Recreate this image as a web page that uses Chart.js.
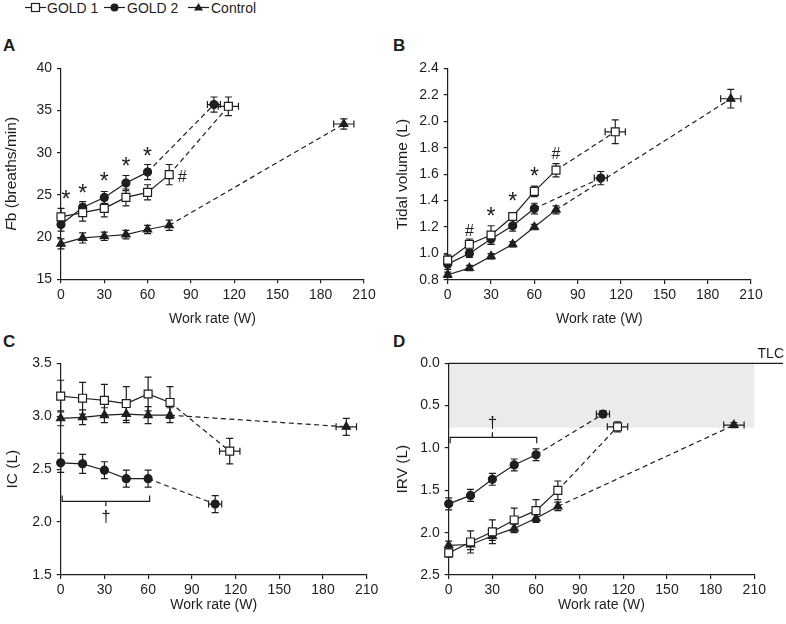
<!DOCTYPE html>
<html lang="en">
<head>
<meta charset="UTF-8">
<title>Breathing pattern during exercise</title>
<script src="https://cdn.jsdelivr.net/npm/chart.js"></script>
<style>
    body {
        margin: 0;
        width: 786px;
        height: 624px;
        background: #fff;
        position: relative;
        overflow: hidden;
        font-family: 'Liberation Sans', Arial, Helvetica, sans-serif;
        color: #1e1e1e;
    }
    canvas { position: absolute; }
    .key { position: absolute; top: 0; height: 15px; display: flex; align-items: center; font-size: 14px; }
    .key svg { position: absolute; top: 0; }
    .letter { position: absolute; font-weight: bold; font-size: 17px; line-height: 17px; }
</style>
</head>
<body>
    <div class="key" style="left:25px"><svg width="21" height="15"><line x1="0" y1="7.5" x2="21" y2="7.5" stroke="#1e1e1e" stroke-width="1.2"/><rect x="6.5" y="3.5" width="8" height="8" fill="#fff" stroke="#1e1e1e" stroke-width="1.2"/></svg><span style="margin-left:22px">GOLD 1</span></div>
    <div class="key" style="left:104px"><svg width="21" height="15"><line x1="0" y1="7.5" x2="21" y2="7.5" stroke="#1e1e1e" stroke-width="1.2"/><circle cx="10.5" cy="7.5" r="4" fill="#1e1e1e"/></svg><span style="margin-left:23px">GOLD 2</span></div>
    <div class="key" style="left:188px"><svg width="21" height="15"><line x1="0" y1="7.5" x2="21" y2="7.5" stroke="#1e1e1e" stroke-width="1.2"/><polygon points="10.5,3 15,10.5 6,10.5" fill="#1e1e1e"/></svg><span style="margin-left:23px">Control</span></div>

    <div class="letter" style="left:3px; top:37px">A</div>
    <div class="letter" style="left:393px; top:37px">B</div>
    <div class="letter" style="left:3px; top:333px">C</div>
    <div class="letter" style="left:393px; top:333px">D</div>

    <canvas id="panelA"></canvas>
    <canvas id="panelB"></canvas>
    <canvas id="panelC"></canvas>
    <canvas id="panelD"></canvas>

<script>
    const ink = '#1e1e1e';
    const fam = "'Liberation Sans', Arial, Helvetica, sans-serif";
    const font14 = { family: fam, size: 14 };
    const fontYTitle = { family: fam, size: 15.5 };

    // work rate stages (W) and peak exercise, order: GOLD 1, GOLD 2, Control
    const workStages = [0, 15, 30, 45, 60, 75];
    const peakWork = [116, 106, 196];
    const peakWorkErr = [7, 4.5, 7];
    const xTicks = [0, 30, 60, 90, 120, 150, 180, 210];

    // A - breathing frequency (breaths/min)
    const fbGold1 = [22.4, 22.9, 23.4, 24.7, 25.3, 27.4, 35.5];
    const fbGold1Err = [1.0, 1.0, 1.0, 1.0, 0.9, 1.2, 1.1];
    const fbGold2 = [21.5, 23.5, 24.7, 26.4, 27.7, 35.7];
    const fbGold2Err = [0.8, 0.7, 0.7, 0.9, 0.9, 0.9];
    const fbControl = [19.2, 19.9, 20.1, 20.3, 20.9, 21.4, 33.4];
    const fbControlErr = [0.6, 0.6, 0.5, 0.5, 0.5, 0.6, 0.6];
    const fbTicks = [15, 20, 25, 30, 35, 40];
    const fbSymbols = [[3.5, 25.0, '*'], [15, 25.8, '*'], [30, 27.2, '*'], [45, 28.9, '*'], [60, 30.2, '*'], [84, 27.2, '#']];

    // B - tidal volume (L)
    const vtGold1 = [0.95, 1.07, 1.14, 1.28, 1.47, 1.63, 1.92];
    const vtGold1Err = [0.04, 0.04, 0.07, 0.03, 0.04, 0.05, 0.09];
    const vtGold2 = [0.92, 1.00, 1.11, 1.21, 1.34, 1.57];
    const vtGold2Err = [0.04, 0.03, 0.04, 0.04, 0.04, 0.05];
    const vtControl = [0.84, 0.89, 0.98, 1.07, 1.20, 1.33, 2.17];
    const vtControlErr = [0.02, 0.02, 0.02, 0.02, 0.02, 0.03, 0.07];
    const vtTicks = [0.8, 1.0, 1.2, 1.4, 1.6, 1.8, 2.0, 2.2, 2.4];
    const vtSymbols = [[15, 1.18, '#'], [30, 1.32, '*'], [45, 1.43, '*'], [60, 1.62, '*'], [75, 1.76, '#']];

    // C - inspiratory capacity (L)
    const icGold1 = [3.19, 3.17, 3.15, 3.12, 3.21, 3.13, 2.67];
    const icGold1Err = [0.15, 0.15, 0.15, 0.16, 0.16, 0.15, 0.12];
    const icGold2 = [2.56, 2.55, 2.49, 2.41, 2.41, 2.17];
    const icGold2Err = [0.09, 0.09, 0.08, 0.08, 0.08, 0.08];
    const icControl = [2.98, 2.99, 3.01, 3.02, 3.01, 3.01, 2.90];
    const icControlErr = [0.07, 0.07, 0.07, 0.08, 0.08, 0.07, 0.08];
    const icTicks = [1.5, 2.0, 2.5, 3.0, 3.5];

    // D - inspiratory reserve volume (L), axis reversed
    const irvGold1 = [2.24, 2.11, 1.99, 1.85, 1.74, 1.50, 0.75];
    const irvGold1Err = [0.05, 0.13, 0.14, 0.14, 0.13, 0.11, 0.06];
    const irvGold2 = [1.66, 1.56, 1.37, 1.20, 1.08, 0.60];
    const irvGold2Err = [0.07, 0.07, 0.07, 0.07, 0.07, 0.04];
    const irvControl = [2.15, 2.14, 2.04, 1.95, 1.83, 1.69, 0.73];
    const irvControlErr = [0.05, 0.06, 0.05, 0.05, 0.05, 0.05, 0.03];
    const irvTicks = [0.0, 0.5, 1.0, 1.5, 2.0, 2.5];
    const irvShadeTo = 0.76;

    Chart.defaults.font.family = fam;
    Chart.defaults.font.size = 14;
    Chart.defaults.color = ink;

    const styles = [
        { shape: 'rect', r: 5.6, fill: '#fff' },
        { shape: 'circle', r: 4, fill: ink },
        { shape: 'triangle', r: 4.8, fill: ink }
    ];

    function series(label, values, errs, group) {
        const last = values.length - 1;
        const st = styles[group];
        return {
            label: label,
            data: values.map((v, i) => ({ x: i < last ? workStages[i] : peakWork[group], y: v })),
            yErr: errs,
            xErr: peakWorkErr[group],
            borderColor: ink,
            borderWidth: 1.2,
            backgroundColor: st.fill,
            pointStyle: st.shape,
            pointRadius: st.r,
            pointHoverRadius: st.r,
            pointBorderColor: ink,
            pointBorderWidth: 1.2,
            pointBackgroundColor: st.fill,
            clip: false,
            tension: 0,
            segment: {
                borderDash: c => c.p1DataIndex === last ? [5, 3.5] : undefined
            }
        };
    }

    // error bars, drawn under the markers
    Chart.register({
        id: 'errorBars',
        beforeDatasetsDraw(chart) {
            const { ctx, scales: { x, y } } = chart;
            ctx.save();
            ctx.strokeStyle = ink;
            ctx.lineWidth = 1.2;
            chart.data.datasets.forEach(ds => {
                const last = ds.data.length - 1;
                ds.data.forEach((p, i) => {
                    const px = x.getPixelForValue(p.x);
                    const py = y.getPixelForValue(p.y);
                    const t = y.getPixelForValue(p.y + ds.yErr[i]);
                    const b = y.getPixelForValue(p.y - ds.yErr[i]);
                    ctx.beginPath();
                    ctx.moveTo(px, t); ctx.lineTo(px, b);
                    ctx.moveTo(px - 3.5, t); ctx.lineTo(px + 3.5, t);
                    ctx.moveTo(px - 3.5, b); ctx.lineTo(px + 3.5, b);
                    if (i === last) {
                        const l = x.getPixelForValue(p.x - ds.xErr);
                        const r = x.getPixelForValue(p.x + ds.xErr);
                        ctx.moveTo(l, py); ctx.lineTo(r, py);
                        ctx.moveTo(l, py - 3.5); ctx.lineTo(l, py + 3.5);
                        ctx.moveTo(r, py - 3.5); ctx.lineTo(r, py + 3.5);
                    }
                    ctx.stroke();
                });
            });
            ctx.restore();
        }
    });

    // significance symbols and brackets
    function marksPlugin(symbols, bracket) {
        return {
            id: 'marks',
            afterDatasetsDraw(chart) {
                const { ctx, scales: { x, y } } = chart;
                ctx.save();
                ctx.fillStyle = ink;
                ctx.strokeStyle = ink;
                ctx.lineWidth = 1.2;
                ctx.textAlign = 'center';
                ctx.textBaseline = 'alphabetic';
                (symbols || []).forEach(([vx, vy, s]) => {
                    ctx.font = (s === '*' ? 23 : 16) + 'px ' + fam;
                    const m = ctx.measureText(s);
                    const dy = (m.actualBoundingBoxAscent - m.actualBoundingBoxDescent) / 2;
                    ctx.fillText(s, x.getPixelForValue(vx), y.getPixelForValue(vy) + dy);
                });
                if (bracket) {
                    const x0 = x.getPixelForValue(bracket.from);
                    const x1 = x.getPixelForValue(bracket.to);
                    const xm = x.getPixelForValue(bracket.mid);
                    const yl = y.getPixelForValue(bracket.at);
                    const ye = y.getPixelForValue(bracket.ends);
                    const ym = y.getPixelForValue(bracket.midTo);
                    ctx.beginPath();
                    ctx.moveTo(x0, ye); ctx.lineTo(x0, yl); ctx.lineTo(x1, yl); ctx.lineTo(x1, ye);
                    ctx.moveTo(xm, yl); ctx.lineTo(xm, ym);
                    ctx.stroke();
                    ctx.font = '17px ' + fam;
                    const m = ctx.measureText('\u2020');
                    const dy = (m.actualBoundingBoxAscent - m.actualBoundingBoxDescent) / 2;
                    ctx.fillText('\u2020', xm, y.getPixelForValue(bracket.dagger) + dy);
                }
                ctx.restore();
            }
        };
    }

    // italic F in the panel A axis title
    const fbTitle = {
        id: 'fbTitle',
        afterDraw(chart) {
            const { ctx, chartArea } = chart;
            const italic = 'italic 15.5px ' + fam;
            const plain = '15.5px ' + fam;
            ctx.save();
            ctx.translate(12, (chartArea.top + chartArea.bottom) / 2);
            ctx.rotate(-Math.PI / 2);
            ctx.fillStyle = ink;
            ctx.textAlign = 'left';
            ctx.textBaseline = 'middle';
            ctx.font = italic;
            const w1 = ctx.measureText('F').width;
            ctx.font = plain;
            const w2 = ctx.measureText('b (breaths/min)').width;
            const start = -(w1 + w2) / 2;
            ctx.font = italic;
            ctx.fillText('F', start, 0);
            ctx.font = plain;
            ctx.fillText('b (breaths/min)', start + w1, 0);
            ctx.restore();
        }
    };

    // grey band and TLC line for panel D
    const tlcBand = {
        id: 'tlcBand',
        beforeDraw(chart) {
            const { ctx, scales: { x, y } } = chart;
            const top = y.getPixelForValue(0);
            ctx.save();
            ctx.fillStyle = '#ebebeb';
            ctx.fillRect(x.getPixelForValue(0), top, x.getPixelForValue(210) - x.getPixelForValue(0), y.getPixelForValue(irvShadeTo) - top);
            ctx.strokeStyle = ink;
            ctx.lineWidth = 1.2;
            ctx.beginPath();
            ctx.moveTo(x.getPixelForValue(0), top);
            ctx.lineTo(chart.width - 3, top);
            ctx.stroke();
            ctx.fillStyle = ink;
            ctx.font = '14px ' + fam;
            ctx.textAlign = 'right';
            ctx.textBaseline = 'bottom';
            ctx.fillText('TLC', chart.width - 2, top - 2);
            ctx.restore();
        }
    };

    function makePanel(id, box, area, xTitleY, datasets, y, extraPlugins) {
        const cv = document.getElementById(id);
        cv.width = box.width;
        cv.height = box.height;
        cv.style.left = box.left + 'px';
        cv.style.top = box.top + 'px';
        const xBottom = xTitleY + 8.4 + 2;
        const axisLook = {
            grid: { display: true, drawOnChartArea: false, drawTicks: true, tickLength: 4, color: ink, lineWidth: 1.2 },
            border: { display: true, color: ink, width: 1.2 }
        };
        return new Chart(cv, {
            type: 'line',
            data: { datasets: datasets },
            options: {
                responsive: false,
                animation: false,
                events: [],
                font: font14,
                layout: {
                    padding: {
                        left: 0,
                        top: area.top - box.top,
                        right: box.left + box.width - area.right,
                        bottom: box.top + box.height - xBottom
                    }
                },
                plugins: { legend: { display: false }, tooltip: { enabled: false } },
                scales: {
                    x: Object.assign({
                        type: 'linear',
                        min: 0,
                        max: 210,
                        afterBuildTicks: s => { s.ticks = xTicks.map(v => ({ value: v })); },
                        afterFit: s => { s.height = xBottom - area.bottom; },
                        ticks: { padding: 3, autoSkip: false, maxRotation: 0, color: ink, font: font14 },
                        title: { display: true, text: 'Work rate (W)', color: ink, font: font14, padding: { top: 0, bottom: 2 } }
                    }, axisLook),
                    y: Object.assign({
                        type: 'linear',
                        min: y.min,
                        max: y.max,
                        reverse: !!y.reverse,
                        afterBuildTicks: s => { s.ticks = y.ticks.map(v => ({ value: v })); },
                        afterFit: s => { s.width = area.left - box.left; },
                        ticks: { padding: 5, color: ink, font: font14, callback: v => y.decimals ? v.toFixed(y.decimals) : String(v) },
                        title: { display: !!y.title, text: y.title || '', color: ink, font: fontYTitle, padding: { top: 3, bottom: 0 } }
                    }, axisLook)
                }
            },
            plugins: extraPlugins
        });
    }

    makePanel('panelA',
        { left: 0, top: 30, width: 390, height: 300 },
        { left: 61, top: 68.3, right: 364, bottom: 279.3 }, 319,
        [series('GOLD 1', fbGold1, fbGold1Err, 0), series('GOLD 2', fbGold2, fbGold2Err, 1), series('Control', fbControl, fbControlErr, 2)],
        { min: 15, max: 40, ticks: fbTicks, decimals: 0 },
        [marksPlugin(fbSymbols, null), fbTitle]);

    makePanel('panelB',
        { left: 390, top: 30, width: 396, height: 300 },
        { left: 447.7, top: 68.3, right: 751, bottom: 280 }, 319,
        [series('GOLD 1', vtGold1, vtGold1Err, 0), series('GOLD 2', vtGold2, vtGold2Err, 1), series('Control', vtControl, vtControlErr, 2)],
        { min: 0.8, max: 2.4, ticks: vtTicks, decimals: 1, title: 'Tidal volume (L)' },
        [marksPlugin(vtSymbols, null)]);

    makePanel('panelC',
        { left: 0, top: 330, width: 390, height: 294 },
        { left: 60.7, top: 363.3, right: 366.7, bottom: 575 }, 605,
        [series('GOLD 1', icGold1, icGold1Err, 0), series('GOLD 2', icGold2, icGold2Err, 1), series('Control', icControl, icControlErr, 2)],
        { min: 1.5, max: 3.5, ticks: icTicks, decimals: 1, title: 'IC (L)' },
        [marksPlugin(null, { from: 1, to: 61, mid: 31, at: 2.195, ends: 2.25, midTo: 2.15, dagger: 2.05 })]);

    makePanel('panelD',
        { left: 390, top: 330, width: 396, height: 294 },
        { left: 448.7, top: 363.3, right: 754.3, bottom: 575 }, 605,
        [series('GOLD 1', irvGold1, irvGold1Err, 0), series('GOLD 2', irvGold2, irvGold2Err, 1), series('Control', irvControl, irvControlErr, 2)],
        { min: 0, max: 2.5, ticks: irvTicks, decimals: 1, reverse: true, title: 'IRV (L)' },
        [tlcBand, marksPlugin(null, { from: 1, to: 60.5, mid: 30, at: 0.874, ends: 0.945, midTo: 0.815, dagger: 0.70 })]);
</script>
</body>
</html>
